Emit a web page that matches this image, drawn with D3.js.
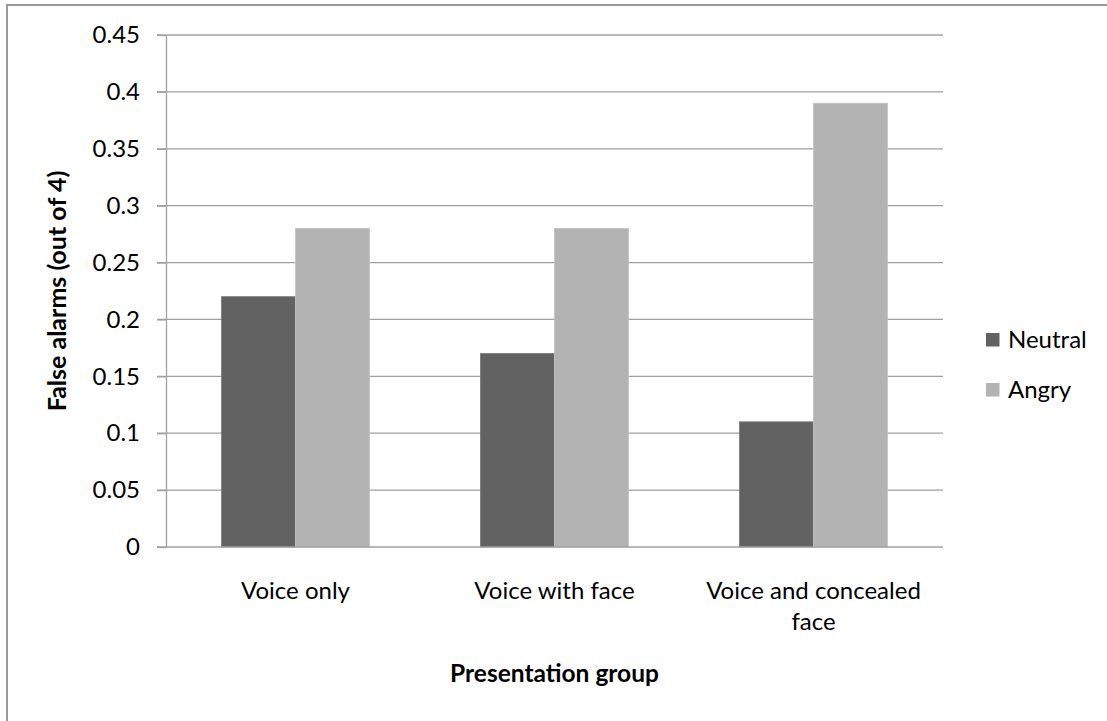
<!DOCTYPE html>
<html>
<head>
<meta charset="utf-8">
<style>
  body { margin: 0; background: #fff; }
  svg text { font-family: Lato, "Open Sans", sans-serif; fill: #000; }
</style>
</head>
<body>
<script src="https://d3js.org/d3.v7.min.js"></script>
<script>
// chart data
var categories = ["Voice only", "Voice with face", "Voice and concealed face"];
var seriesNames = ["Neutral", "Angry"];
var neutralValues = [0.22, 0.17, 0.11];
var angryValues = [0.28, 0.28, 0.39];
var yTicks = [0, 0.05, 0.1, 0.15, 0.2, 0.25, 0.3, 0.35, 0.4, 0.45];
var yTickLabels = ["0", "0.05", "0.1", "0.15", "0.2", "0.25", "0.3", "0.35", "0.4", "0.45"];
var colors = ["#626262", "#b3b3b3"];

var W = 1107, H = 721;
// plot box (window.top is reserved, so no "top" name here)
var plotL = 166, plotR = 943, plotT = 35, plotB = 547;

var svg = d3.select("body").append("svg")
    .attr("width", W)
    .attr("height", H);

// outer frame (only left/top visible in the crop)
svg.append("rect")
    .attr("x", 7).attr("y", 5)
    .attr("width", W + 20).attr("height", H + 20)
    .attr("fill", "none")
    .attr("stroke", "#999")
    .attr("stroke-width", 2);

var y = d3.scaleLinear().domain([0, 0.45]).range([plotB, plotT]);

var x0 = d3.scaleBand().domain(categories).range([plotL, plotR]).padding(0);
var bw = x0.bandwidth();
// excel gap width 150%
var x1 = d3.scaleBand().domain(seriesNames)
    .range([bw * 0.75 / 3.5, bw * 2.75 / 3.5]).padding(0);

// gridlines
svg.append("g").selectAll("line")
    .data(yTicks.slice(1))
    .enter().append("line")
    .attr("x1", plotL - 9).attr("x2", plotR)
    .attr("y1", function (d) { return y(d); })
    .attr("y2", function (d) { return y(d); })
    .attr("stroke", "#a0a0a0")
    .attr("stroke-width", 1.3);

// bars
var rows = categories.map(function (c, i) {
    return { cat: c, vals: [neutralValues[i], angryValues[i]] };
});

svg.append("g").selectAll("g")
    .data(rows)
    .enter().append("g")
    .attr("transform", function (d) { return "translate(" + x0(d.cat) + ",0)"; })
    .selectAll("rect")
    .data(function (d) { return d.vals.map(function (v, j) { return { s: seriesNames[j], v: v, j: j }; }); })
    .enter().append("rect")
    .attr("x", function (d) { return x1(d.s); })
    .attr("width", x1.bandwidth())
    .attr("y", function (d) { return y(d.v); })
    .attr("height", function (d) { return y(0) - y(d.v); })
    .attr("fill", function (d) { return colors[d.j]; })
    .attr("stroke", function (d) { return d.j === 0 ? "#777" : "#c4c4c4"; })
    .attr("stroke-width", 0.8);

// y axis
var yAxis = svg.append("g")
    .attr("transform", "translate(" + plotL + ",0)")
    .call(d3.axisLeft(y).tickValues(yTicks)
        .tickFormat(function (d, i) { return yTickLabels[i]; })
        .tickSize(9).tickSizeOuter(0).tickPadding(17));
yAxis.select(".domain").attr("stroke", "#a0a0a0").attr("stroke-width", 1.3);
yAxis.selectAll(".tick line").attr("stroke", "#a0a0a0").attr("stroke-width", 1.3);
yAxis.selectAll(".tick text")
    .style("font-family", "Lato, sans-serif")
    .style("font-size", "24px")
    .attr("fill", "#111");

// x axis line
svg.append("line")
    .attr("x1", plotL - 9).attr("x2", plotR)
    .attr("y1", y(0)).attr("y2", y(0))
    .attr("stroke", "#a0a0a0")
    .attr("stroke-width", 1.3);

// category labels with wrapping
function wrapText(sel, width) {
    sel.each(function (d) {
        var t = d3.select(this);
        var words = d.split(" ");
        var lines = [], line = [];
        var tspan = t.append("tspan");
        words.forEach(function (w) {
            line.push(w);
            tspan.text(line.join(" "));
            if (tspan.node().getComputedTextLength() > width && line.length > 1) {
                line.pop();
                lines.push(line.join(" "));
                line = [w];
            }
        });
        lines.push(line.join(" "));
        tspan.remove();
        lines.forEach(function (l, i) {
            t.append("tspan")
                .attr("x", 0)
                .attr("dy", i === 0 ? 0 : 31)
                .text(l);
        });
    });
}

svg.append("g").selectAll("text")
    .data(categories)
    .enter().append("text")
    .attr("transform", function (d) { return "translate(" + (x0(d) + bw / 2) + "," + (y(0) + 52) + ")"; })
    .attr("text-anchor", "middle")
    .style("font-size", "24px")
    .attr("fill", "#111")
    .call(wrapText, 240);

// axis titles
svg.append("text")
    .attr("x", (plotL + plotR) / 2)
    .attr("y", 682)
    .attr("text-anchor", "middle")
    .style("font-size", "24.5px")
    .style("font-weight", "bold")
    .text("Presentation group");

svg.append("text")
    .attr("transform", "translate(66," + ((plotT + plotB) / 2) + ") rotate(-90)")
    .attr("text-anchor", "middle")
    .style("font-size", "25px")
    .style("font-weight", "bold")
    .text("False alarms (out of 4)");

// legend
var legend = svg.append("g").selectAll("g")
    .data(seriesNames)
    .enter().append("g")
    .attr("transform", function (d, i) { return "translate(986," + (333 + i * 50) + ")"; });
legend.append("rect")
    .attr("width", 13.5).attr("height", 13.5)
    .attr("fill", function (d, i) { return colors[i]; });
legend.append("text")
    .attr("x", 22).attr("y", 14.5)
    .style("font-size", "24px")
    .attr("fill", "#111")
    .text(function (d) { return d; });
</script>
</body>
</html>
